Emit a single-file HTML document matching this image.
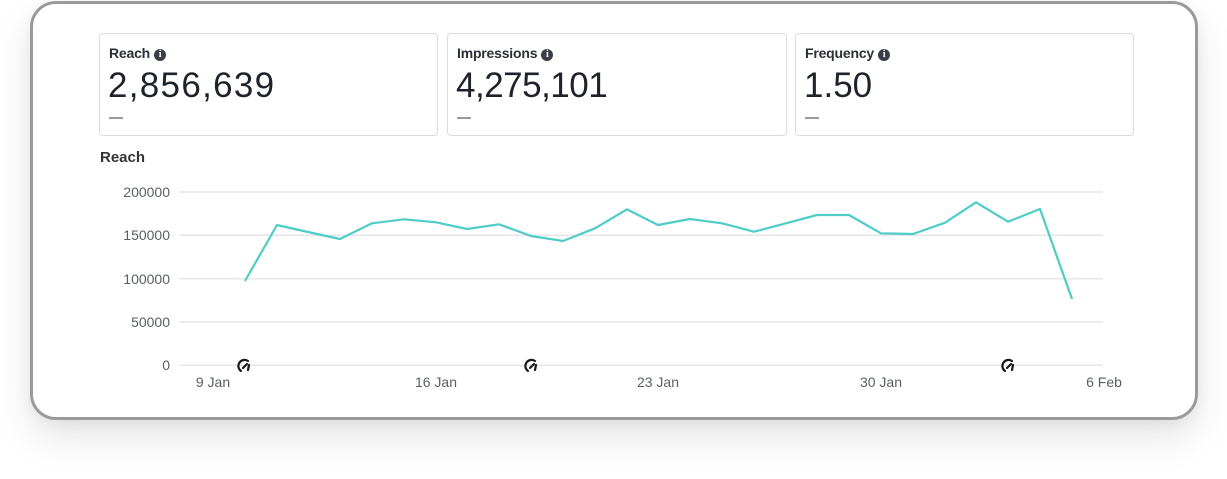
<!DOCTYPE html>
<html><head><meta charset="utf-8">
<style>
html,body{margin:0;padding:0;background:#fff;}
body{width:1227px;height:479px;position:relative;overflow:hidden;font-family:"Liberation Sans",sans-serif;}
.frame{position:absolute;left:30px;top:1px;width:1162px;height:413px;border:3px solid #9a9a9a;border-radius:26px;background:#fff;box-shadow:0 18px 40px rgba(0,0,0,0.10),0 4px 14px rgba(0,0,0,0.05);}
.card{position:absolute;top:33px;height:101px;border:1px solid #dcdcdc;border-radius:4px;background:#fff;}
.lbl{position:absolute;left:9px;top:11px;font-size:14px;font-weight:bold;color:#2b2f36;white-space:nowrap;letter-spacing:-0.2px;}
.info{display:inline-block;width:12px;height:12px;border-radius:50%;background:#3a3f47;color:#fff;font-size:10px;line-height:12px;text-align:center;font-weight:bold;vertical-align:1px;margin-left:4px;font-family:"Liberation Serif",serif;}
.val{position:absolute;left:8px;top:32px;font-size:35px;color:#1e232b;white-space:nowrap;}
.dash{position:absolute;left:9px;top:83px;width:14px;height:1.5px;background:#9a9a9a;}
</style></head><body>
<div class="frame"></div>

<div class="card" style="left:99px;width:337px;">
  <div class="lbl">Reach<span class="info">i</span></div>
  <div class="val" style="letter-spacing:1.3px">2,856,639</div>
  <div class="dash"></div>
</div>
<div class="card" style="left:447px;width:338px;">
  <div class="lbl">Impressions<span class="info">i</span></div>
  <div class="val" style="letter-spacing:-0.5px">4,275,101</div>
  <div class="dash"></div>
</div>
<div class="card" style="left:795px;width:337px;">
  <div class="lbl">Frequency<span class="info">i</span></div>
  <div class="val" style="letter-spacing:0">1.50</div>
  <div class="dash"></div>
</div>

<svg width="1227" height="479" style="position:absolute;left:0;top:0" xmlns="http://www.w3.org/2000/svg">
  <text x="100" y="162" font-family="Liberation Sans, sans-serif" font-size="15" font-weight="bold" fill="#333">Reach</text>
  <g stroke="#e6e6e6" stroke-width="1.5">
    <line x1="179" y1="192" x2="1103" y2="192"/>
    <line x1="179" y1="235.3" x2="1103" y2="235.3"/>
    <line x1="179" y1="278.7" x2="1103" y2="278.7"/>
    <line x1="179" y1="322" x2="1103" y2="322"/>
    <line x1="179" y1="365.3" x2="1103" y2="365.3"/>
  </g>
  <g font-family="Liberation Sans, sans-serif" font-size="14" fill="#5a5e66" text-anchor="end">
    <text x="170" y="197">200000</text>
    <text x="170" y="240">150000</text>
    <text x="170" y="284">100000</text>
    <text x="170" y="327">50000</text>
    <text x="170" y="370">0</text>
  </g>
  <g font-family="Liberation Sans, sans-serif" font-size="14" fill="#5a5e66" text-anchor="middle">
    <text x="213" y="387">9 Jan</text>
    <text x="436" y="387">16 Jan</text>
    <text x="658" y="387">23 Jan</text>
    <text x="881" y="387">30 Jan</text>
    <text x="1104" y="387">6 Feb</text>
  </g>
  <polyline fill="none" stroke="#4ecdc8" stroke-width="2.2" stroke-linejoin="round"
    points="245,281 277,225 308,232 340,239 372,223.3 404,219.3 436,222.3 467,229 499,224.3 531,236 563,241 595,228.3 627,209.3 658,225 690,219 722,223.3 754,231.7 786,223.3 817,215 849,215 881,233.3 913,234 945,222.7 976,202.3 1008,221.7 1040,209 1072,299"/>
  <g fill="none" stroke="#1a1a1a" stroke-width="2.2" stroke-linecap="round">
    <g transform="translate(244,366)">
      <path d="M-3,5 A6,6 0 0 1 4,-5"/><path d="M-1,2 L3,-2"/><path d="M5,-1 L4,4"/>
    </g>
    <g transform="translate(531,366)">
      <path d="M-3,5 A6,6 0 0 1 4,-5"/><path d="M-1,2 L3,-2"/><path d="M5,-1 L4,4"/>
    </g>
    <g transform="translate(1008,366)">
      <path d="M-3,5 A6,6 0 0 1 4,-5"/><path d="M-1,2 L3,-2"/><path d="M5,-1 L4,4"/>
    </g>
  </g>
</svg>
</body></html>
